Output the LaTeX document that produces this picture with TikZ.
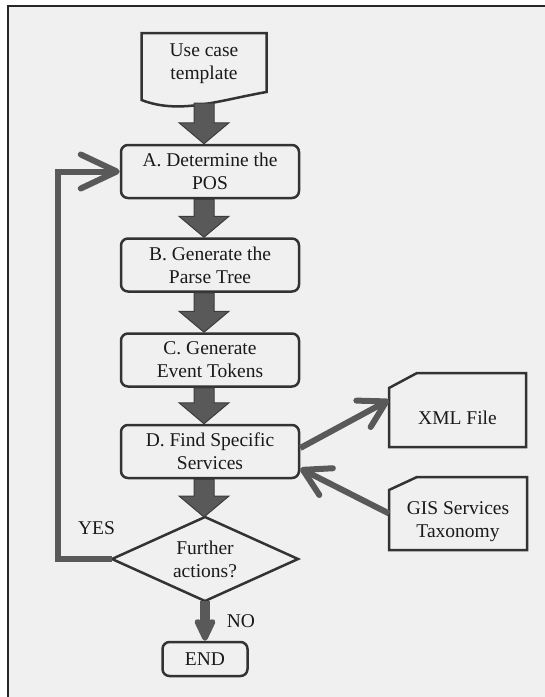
\documentclass[tikz,border=0pt]{standalone}
\usepackage{fontspec}
\setmainfont{Liberation Serif}
\usetikzlibrary{arrows.meta,calc}
\definecolor{bg}{HTML}{F0F0F0}
\definecolor{boxline}{HTML}{333333}
\definecolor{arrfill}{HTML}{595959}
\definecolor{arrline}{HTML}{3C3C3C}
\definecolor{txt}{HTML}{1A1A1A}
\newcommand\myblockarrow[2]{%
  \path[barrow] let \p1=(#1), \p2=(#2) in
    (\x1-10pt,\y1) -- (\x1+10pt,\y1) -- (\x1+10pt,\y2+21pt) -- (\x1+25pt,\y2+21pt)
    -- (\x1,\y2) -- (\x1-25pt,\y2+21pt) -- (\x1-10pt,\y2+21pt) -- cycle;}
\begin{document}
\begin{tikzpicture}[x=1pt,y=-1pt,
  font=\fontsize{19.5}{23}\selectfont,
  box/.style={draw=boxline, line width=2.5pt, rounded corners=7pt, minimum width=178pt,
    minimum height=53pt, align=center, inner sep=0pt, text=txt},
  plain/.style={inner sep=0pt, outer sep=0pt, align=center, text=txt},
  outline/.style={draw=boxline, line width=2.5pt, line join=miter},
  barrow/.style={fill=arrfill, draw=arrline, line width=1pt, line join=miter},
  chev/.style={draw=arrfill, line width=6pt}]
\useasboundingbox (0,0) rectangle (545,697);
\fill[bg] (8,6) rectangle (545,697);
\draw[line width=1.3pt, black!85] (8,697) -- (8,6) -- (545,6);

% nodes
\node[plain, minimum width=125pt, minimum height=61pt] (doc) at (204,63.5) {Use case\\template};
\node[box] (A) at (210,171.5) {A. Determine the\\POS};
\node[box] (B) at (210,265) {B. Generate the\\Parse Tree};
\node[box] (C) at (210,360) {C. Generate\\Event Tokens};
\node[box] (D) at (210,451.5) {D. Find Specific\\Services};
\node[plain, minimum width=186pt, minimum height=84pt] (dia) at (205,559) {Further\\actions?};
\node[box, minimum width=85pt, minimum height=34pt] (END) at (205,659) {END};
\node[plain, minimum width=137pt, minimum height=74pt,
  label={[plain,yshift=-8pt]center:XML File}] (xml) at (457.5,410) {};
\node[plain, minimum width=138pt, minimum height=73pt,
  label={[plain,yshift=-8pt]center:{GIS Services\\Taxonomy}}] (gis) at (458,513.5) {};
\node[plain] (yes) at (96.5,528) {YES};
\node[plain] (no) at (241,621) {NO};
\coordinate (loop) at (58,559);

% shapes drawn around nodes
\draw[outline] (doc.north west) -- (doc.north east) -- ($(doc.south east)+(0,-2)$)
  .. controls (220,100) and (180,115) .. ($(doc.south west)+(0,6)$) -- cycle;
\draw[outline] (dia.north) -- (dia.east) -- (dia.south) -- (dia.west) -- cycle;
\draw[outline] (xml.south west) -- ($(xml.north west)+(0,15)$) -- ($(xml.north west)+(28,0)$)
  -- (xml.north east) -- (xml.south east) -- cycle;
\draw[outline] (gis.south west) -- ($(gis.north west)+(0,13)$) -- ($(gis.north west)+(28,0)$)
  -- (gis.north east) -- (gis.south east) -- cycle;

% block arrows
\myblockarrow{$(doc.south)+(0,9)$}{A.north -| doc.south}
\myblockarrow{A.south -| doc.south}{B.north -| doc.south}
\myblockarrow{B.south -| doc.south}{C.north -| doc.south}
\myblockarrow{C.south -| doc.south}{D.north -| doc.south}
\myblockarrow{D.south -| doc.south}{dia.north -| doc.south}

% other connectors
\draw[chev, -{Straight Barb[length=36pt,width=34pt,round]}] (dia.west) -- (loop) |- (A.west);
\draw[chev, -{Straight Barb[length=26pt,width=30pt,round]}] ($(D.east)+(0,-3.5)$) -- ($(xml.west)+(0,-10)$);
\draw[chev, -{Straight Barb[length=26pt,width=30pt,round]}] (gis.west) -- ($(D.east)+(0,17)$);
\draw[draw=arrfill, fill=arrfill, line width=10pt, -{Stealth[length=28pt,width=26pt,inset=6pt,round]}] (dia.south) -- (END.north);
\end{tikzpicture}
\end{document}
